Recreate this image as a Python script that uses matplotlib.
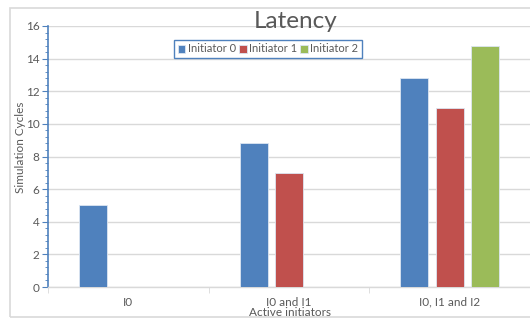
import numpy as np
import matplotlib
matplotlib.use("Agg")
import matplotlib.pyplot as plt
from matplotlib.patches import Rectangle
from matplotlib.ticker import MultipleLocator

categories = ["I0", "I0 and I1", "I0, I1 and I2"]
series = ["Initiator 0", "Initiator 1", "Initiator 2"]
initiator0 = [5.0, 8.8, 12.8]
initiator1 = [np.nan, 7.0, 11.0]
initiator2 = [np.nan, np.nan, 14.8]
colors = ["#4F81BD", "#C0504D", "#9BBB59"]

plt.rcParams["font.family"] = ["Lato", "DejaVu Sans"]
text_color = "#595959"

fig = plt.figure(figsize=(5.3, 3.2), dpi=100)
fig.patches.append(Rectangle((10 / 530, 1 - 317 / 320), 1.0, (317 - 8) / 320,
                             transform=fig.transFigure, fill=False,
                             edgecolor="#D9D9D9", linewidth=1.2))
ax = fig.add_axes([48 / 530, 1 - 287 / 320, 1 - 48 / 530, (287 - 26) / 320])

x = np.arange(len(categories))
width = 0.174
step = 0.22
for i, (name, vals) in enumerate(zip(series, [initiator0, initiator1, initiator2])):
    ax.bar(x + (i - 1) * step, vals, width, color=colors[i], label=name,
           edgecolor="#DCE6F2", linewidth=0.6, zorder=3)

ax.set_xlim(-0.5, 2.5)
ax.set_ylim(0, 16)
ax.yaxis.set_major_locator(MultipleLocator(2))
ax.yaxis.set_minor_locator(MultipleLocator(0.4))
ax.set_xticks(np.arange(-0.5, 2.6, 0.5), minor=True)
ax.set_xticks(x)
ax.set_xticklabels(categories)
ax.tick_params(axis="x", which="major", length=0, pad=7, labelsize=8.5, labelcolor=text_color)
ax.tick_params(axis="x", which="minor", length=4, color="#D9D9D9", direction="out")
ax.tick_params(axis="y", which="major", length=4, color="#4F81BD", labelsize=8.5,
               labelcolor=text_color, pad=2)
ax.tick_params(axis="y", which="minor", length=2, color="#4F81BD")

ax.grid(axis="y", color="#D9D9D9", linewidth=1, zorder=0)
for s in ["top", "right"]:
    ax.spines[s].set_visible(False)
ax.spines["left"].set_color("#4F81BD")
ax.spines["left"].set_linewidth(1.2)
ax.spines["bottom"].set_color("#D9D9D9")
ax.spines["bottom"].set_linewidth(1)

ax.set_ylabel("Simulation Cycles", fontsize=8.5, color=text_color)
ax.yaxis.set_label_coords((26 - 48) / 482, 0.535)
fig.text(290 / 530, 1 - 312 / 320, "Active initiators", fontsize=8.5,
         color=text_color, ha="center", va="center")

fig.text(296 / 530, 1 - 22 / 320, "Latency", fontsize=17.5, color=text_color,
         ha="center", va="center")

leg = ax.legend(loc="center", bbox_to_anchor=(268 / 530, 1 - 49 / 320),
                bbox_transform=fig.transFigure, ncol=3, fontsize=8,
                handlelength=0.7, handleheight=0.7, handletextpad=0.2,
                columnspacing=0.3, borderpad=0.3, fancybox=False,
                framealpha=1, labelcolor=text_color)
leg.get_frame().set_edgecolor("#4F81BD")
leg.get_frame().set_linewidth(1)

fig.savefig("out.png", dpi=100)
